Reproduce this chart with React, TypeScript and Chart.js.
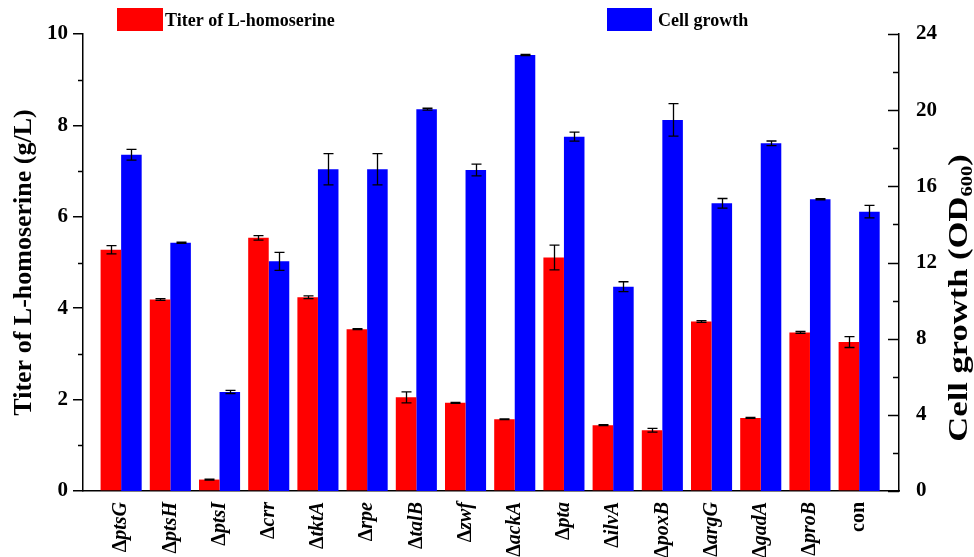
import React, { useEffect, useRef } from 'react';
import { Chart, registerables } from 'chart.js';

Chart.register(...registerables);

// Strains and measured values (mean and standard deviation)
const strains = ['ΔptsG', 'ΔptsH', 'ΔptsI', 'Δcrr', 'ΔtktA', 'Δrpe', 'ΔtalB', 'Δzwf', 'ΔackA', 'Δpta', 'ΔilvA', 'ΔpoxB', 'ΔargG', 'ΔgadA', 'ΔproB', 'con'];
const titerValues = [5.28, 4.19, 0.25, 5.54, 4.24, 3.54, 2.05, 1.93, 1.57, 5.11, 1.44, 1.33, 3.71, 1.6, 3.47, 3.26];
const titerErrors = [0.09, 0.02, 0.01, 0.05, 0.03, 0.01, 0.12, 0.01, 0.01, 0.27, 0.01, 0.04, 0.02, 0.01, 0.02, 0.12];
const growthValues = [17.66, 13.04, 5.2, 12.06, 16.9, 16.9, 20.05, 16.86, 22.9, 18.61, 10.73, 19.49, 15.11, 18.26, 15.32, 14.67];
const growthErrors = [0.28, 0.03, 0.08, 0.47, 0.82, 0.82, 0.05, 0.31, 0.03, 0.24, 0.26, 0.85, 0.25, 0.12, 0.03, 0.33];
const titerTicks = [0, 2, 4, 6, 8, 10];
const growthTicks = [0, 4, 8, 12, 16, 20, 24];

const seriesNames = ['Titer of L-homoserine', 'Cell growth'];
const seriesColors = ['#ff0000', '#0000ff'];

const FONT = "'Liberation Serif', 'Times New Roman', serif";
const AXIS_W = 1.5;

// Error bars drawn on top of each bar
const errorBarsPlugin = {
  id: 'errorBars',
  afterDatasetsDraw(chart: any) {
    const { ctx } = chart;
    ctx.save();
    ctx.strokeStyle = '#000';
    ctx.lineWidth = 1.3;
    chart.data.datasets.forEach((ds: any, d: number) => {
      const meta = chart.getDatasetMeta(d);
      const yScale = chart.scales[ds.yAxisID];
      ds.data.forEach((pt: any, i: number) => {
        const err = ds.errors[i];
        const bar = meta.data[i];
        if (!bar) return;
        const x = Math.round(bar.x) + 0.5;
        const yTop = yScale.getPixelForValue(pt.y + err);
        const yBot = yScale.getPixelForValue(pt.y - err);
        ctx.beginPath();
        ctx.moveTo(x, yTop);
        ctx.lineTo(x, yBot);
        ctx.moveTo(x - 5, yTop);
        ctx.lineTo(x + 5, yTop);
        ctx.moveTo(x - 5, yBot);
        ctx.lineTo(x + 5, yBot);
        ctx.stroke();
      });
    });
    ctx.restore();
  },
};

// Minor ticks on the left axis, inward ticks on the right axis,
// strain labels, the right-axis title and the legend
const decorPlugin = {
  id: 'decor',
  afterDraw(chart: any) {
    const { ctx } = chart;
    const yL = chart.scales.y;
    const yR = chart.scales.y1;
    const xS = chart.scales.x;
    ctx.save();
    ctx.strokeStyle = '#000';
    ctx.lineWidth = AXIS_W;

    // left axis minor ticks
    const lx = yL.right;
    for (let v = 1; v < 10; v += 2) {
      const py = Math.round(yL.getPixelForValue(v)) + 0.5;
      ctx.beginPath();
      ctx.moveTo(lx - 5, py);
      ctx.lineTo(lx, py);
      ctx.stroke();
    }

    // right axis ticks pointing into the plot
    const rx = yR.left;
    for (let v = 0; v <= 24; v += 2) {
      const major = v % 4 === 0;
      const py = Math.round(yR.getPixelForValue(v)) + 0.5;
      ctx.beginPath();
      ctx.moveTo(rx - (major ? 11 : 6), py);
      ctx.lineTo(rx, py);
      ctx.stroke();
    }

    // strain labels: upright Δ followed by the italic gene name
    ctx.fillStyle = '#000';
    ctx.textBaseline = 'middle';
    ctx.textAlign = 'right';
    strains.forEach((name, i) => {
      const x = xS.getPixelForValue(i);
      ctx.save();
      ctx.translate(x, xS.top + 11);
      ctx.rotate(-Math.PI / 2);
      if (name.startsWith('Δ')) {
        const gene = name.slice(1);
        ctx.font = `italic bold 20px ${FONT}`;
        const w = ctx.measureText(gene).width;
        ctx.fillText(gene, 0, 0);
        ctx.font = `bold 20px ${FONT}`;
        ctx.fillText('Δ', -w, 0);
      } else {
        ctx.font = `bold 20px ${FONT}`;
        ctx.fillText(name, 0, 0);
      }
      ctx.restore();
    });

    // right axis title with subscript
    const main = 'Cell growth (OD';
    const sub = '600';
    const close = ')';
    const stretch = 1.28;
    ctx.save();
    ctx.font = `bold 27px ${FONT}`;
    const wMain = ctx.measureText(main).width;
    const wClose = ctx.measureText(close).width;
    ctx.font = `bold 16px ${FONT}`;
    const wSub = ctx.measureText(sub).width;
    const total = wMain + wSub + wClose;
    ctx.translate(958, 298);
    ctx.rotate(-Math.PI / 2);
    ctx.scale(stretch, 1);
    ctx.textAlign = 'left';
    ctx.textBaseline = 'alphabetic';
    let tx = -total / 2;
    ctx.font = `bold 27px ${FONT}`;
    ctx.fillText(main, tx, 9);
    tx += wMain;
    ctx.font = `bold 16px ${FONT}`;
    ctx.fillText(sub, tx, 14);
    tx += wSub;
    ctx.font = `bold 27px ${FONT}`;
    ctx.fillText(close, tx, 9);
    ctx.restore();

    // legend
    const items = [
      { x: 117, w: 46, tx: 165 },
      { x: 607, w: 45, tx: 658 },
    ];
    ctx.font = `bold 18px ${FONT}`;
    ctx.textAlign = 'left';
    ctx.textBaseline = 'alphabetic';
    chart.data.datasets.forEach((ds: any, d: number) => {
      const it = items[d];
      ctx.fillStyle = ds.backgroundColor;
      ctx.fillRect(it.x, 8, it.w, 23);
      ctx.fillStyle = '#000';
      ctx.fillText(ds.label, it.tx, 26);
    });

    ctx.restore();
  },
};

export default function App() {
  const canvasRef = useRef<HTMLCanvasElement | null>(null);

  useEffect(() => {
    if (!canvasRef.current) return;
    const chart = new Chart(canvasRef.current, {
      type: 'bar',
      data: {
        datasets: [
          {
            label: seriesNames[0],
            data: titerValues.map((v, i) => ({ x: i, y: v })),
            errors: titerErrors,
            backgroundColor: seriesColors[0],
            borderWidth: 0,
            yAxisID: 'y',
            categoryPercentage: 0.835,
            barPercentage: 1,
          } as any,
          {
            label: seriesNames[1],
            data: growthValues.map((v, i) => ({ x: i, y: v })),
            errors: growthErrors,
            backgroundColor: seriesColors[1],
            borderWidth: 0,
            yAxisID: 'y1',
            categoryPercentage: 0.835,
            barPercentage: 1,
          } as any,
        ],
      },
      options: {
        responsive: false,
        animation: false,
        devicePixelRatio: 1,
        layout: { padding: { top: 34, left: 0, right: 0, bottom: 0 } },
        plugins: {
          legend: { display: false },
          tooltip: { enabled: false },
        },
        scales: {
          x: {
            type: 'linear',
            offset: false,
            min: -0.775,
            max: 15.81,
            grid: { display: false, offset: false },
            ticks: { display: false },
            border: { display: true, color: '#000', width: AXIS_W },
            afterFit: (scale: any) => {
              scale.height = 66;
            },
          },
          y: {
            type: 'linear',
            position: 'left',
            min: titerTicks[0],
            max: titerTicks[titerTicks.length - 1],
            afterBuildTicks: (scale: any) => {
              scale.ticks = titerTicks.map((v) => ({ value: v }));
            },
            ticks: {
              color: '#000',
              padding: 5,
              font: { family: FONT, size: 21, weight: 'bold' },
            },
            grid: {
              display: true,
              drawOnChartArea: false,
              drawTicks: true,
              tickLength: 10,
              color: '#000',
              lineWidth: AXIS_W,
            },
            border: { display: true, color: '#000', width: AXIS_W },
            title: {
              display: true,
              text: 'Titer of L-homoserine (g/L)',
              color: '#000',
              font: { family: FONT, size: 26, weight: 'bold' },
              padding: { top: 9, bottom: 0 },
            },
            afterFit: (scale: any) => {
              scale.width = 83;
            },
          },
          y1: {
            type: 'linear',
            position: 'right',
            min: growthTicks[0],
            max: growthTicks[growthTicks.length - 1],
            afterBuildTicks: (scale: any) => {
              scale.ticks = growthTicks.map((v) => ({ value: v }));
            },
            ticks: {
              color: '#000',
              padding: 9,
              font: { family: FONT, size: 21, weight: 'bold' },
            },
            grid: { display: false },
            border: { display: true, color: '#000', width: AXIS_W },
            afterFit: (scale: any) => {
              scale.width = 75;
            },
          },
        },
      } as any,
      plugins: [errorBarsPlugin, decorPlugin],
    });
    return () => chart.destroy();
  }, []);

  return (
    <div style={{ position: 'fixed', left: 0, top: 0, width: 974, height: 557, background: '#fff' }}>
      <canvas ref={canvasRef} width={974} height={557} />
    </div>
  );
}
